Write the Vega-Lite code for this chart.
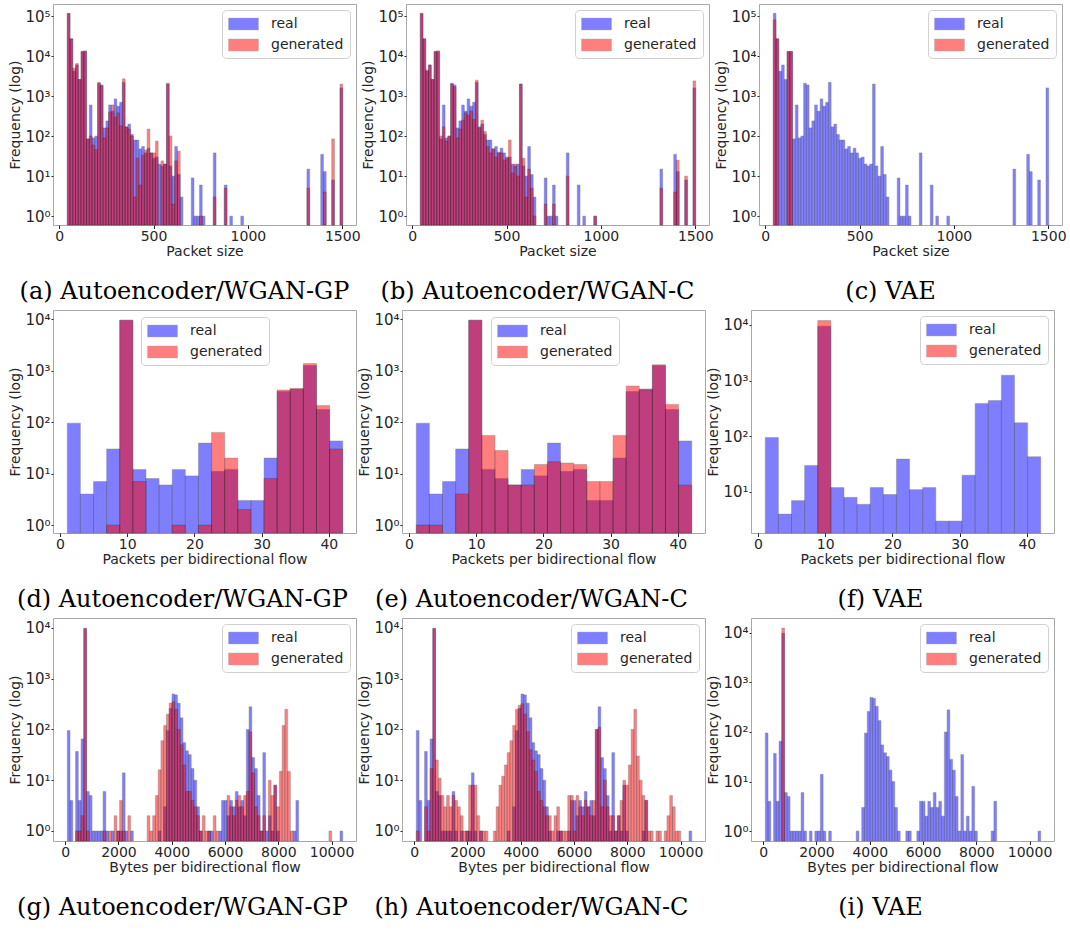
{
  "$schema": "https://vega.github.io/schema/vega-lite/v6.json",
  "padding": {"left": 8, "top": 3, "right": 0, "bottom": 0},
  "spacing": 5,
  "config": {
    "font": "DejaVu Sans",
    "view": {"stroke": "#a8a8a8", "strokeWidth": 1},
    "bar": {"binSpacing": 0, "opacity": 0.5, "stroke": "#000000", "strokeWidth": 0.4, "orient": "vertical"},
    "axis": {"labelFont": "DejaVu Sans", "titleFont": "DejaVu Sans", "labelFontSize": 14, "titleFontSize": 14, "titleFontWeight": "normal", "labelColor": "#262626", "titleColor": "#262626", "grid": false, "domain": false, "tickColor": "#262626", "tickSize": 3.5, "labelPadding": 1, "titlePadding": 1, "labelFlush": false, "labelOverlap": false},
    "axisY": {"labelExpr": "'10' + ['⁰','¹','²','³','⁴','⁵'][round(log(datum.value) / LN10)]", "labelFontSize": 15, "tickSize": 2, "labelPadding": 1, "titlePadding": 2},
    "legend": {"labelFont": "DejaVu Sans", "labelFontSize": 14, "labelColor": "#262626", "symbolType": "M-1,-0.8H3V0.8H-1Z", "symbolSize": 225, "symbolOpacity": 0.5, "symbolStrokeColor": "#555555", "symbolStrokeWidth": 0.5, "labelOffset": 27, "rowPadding": 6, "padding": 6, "fillColor": "#ffffff", "strokeColor": "#d0d0d0", "cornerRadius": 4, "offset": 6},
    "title": {"font": "DejaVu Serif", "fontSize": 24, "fontWeight": "normal", "color": "#000000", "orient": "bottom", "anchor": "middle", "frame": "bounds", "offset": 21}
  },
  "datasets": {
    "pkt_real": [
      {"x0": 40, "x1": 54.6, "c": 117000}, {"x0": 54.6, "x1": 69.2, "c": 27000}, {"x0": 69.2, "x1": 83.8, "c": 4200}, {"x0": 83.8, "x1": 98.4, "c": 6000},
      {"x0": 98.4, "x1": 113, "c": 2600}, {"x0": 113, "x1": 127.6, "c": 13000}, {"x0": 127.6, "x1": 142.2, "c": 13000}, {"x0": 142.2, "x1": 156.8, "c": 85},
      {"x0": 156.8, "x1": 171.4, "c": 600}, {"x0": 171.4, "x1": 186, "c": 90}, {"x0": 186, "x1": 200.6, "c": 100}, {"x0": 200.6, "x1": 215.2, "c": 2100},
      {"x0": 215.2, "x1": 229.8, "c": 1900}, {"x0": 229.8, "x1": 244.4, "c": 160}, {"x0": 244.4, "x1": 259, "c": 240}, {"x0": 259, "x1": 273.6, "c": 600},
      {"x0": 273.6, "x1": 288.2, "c": 420}, {"x0": 288.2, "x1": 302.8, "c": 850}, {"x0": 302.8, "x1": 317.4, "c": 560}, {"x0": 317.4, "x1": 332, "c": 700},
      {"x0": 332, "x1": 346.6, "c": 2200}, {"x0": 346.6, "x1": 361.2, "c": 170}, {"x0": 361.2, "x1": 375.8, "c": 200}, {"x0": 375.8, "x1": 390.4, "c": 110},
      {"x0": 390.4, "x1": 405, "c": 80}, {"x0": 405, "x1": 419.6, "c": 80}, {"x0": 419.6, "x1": 434.2, "c": 48}, {"x0": 434.2, "x1": 448.8, "c": 55},
      {"x0": 448.8, "x1": 463.4, "c": 38}, {"x0": 463.4, "x1": 478, "c": 50}, {"x0": 478, "x1": 492.6, "c": 38}, {"x0": 492.6, "x1": 507.2, "c": 28},
      {"x0": 507.2, "x1": 521.8, "c": 30}, {"x0": 521.8, "x1": 536.4, "c": 20}, {"x0": 536.4, "x1": 551, "c": 18}, {"x0": 551, "x1": 565.6, "c": 20},
      {"x0": 565.6, "x1": 580.2, "c": 2000}, {"x0": 580.2, "x1": 594.8, "c": 18}, {"x0": 594.8, "x1": 609.4, "c": 10}, {"x0": 609.4, "x1": 624, "c": 55},
      {"x0": 624, "x1": 638.6, "c": 11}, {"x0": 638.6, "x1": 653.2, "c": 3}, {"x0": 697, "x1": 711.6, "c": 9}, {"x0": 711.6, "x1": 726.2, "c": 1},
      {"x0": 726.2, "x1": 740.8, "c": 1}, {"x0": 740.8, "x1": 755.4, "c": 6}, {"x0": 755.4, "x1": 770, "c": 1}, {"x0": 813.8, "x1": 828.4, "c": 38},
      {"x0": 872.2, "x1": 886.8, "c": 6}, {"x0": 901.4, "x1": 916, "c": 1}, {"x0": 959.8, "x1": 974.4, "c": 1}, {"x0": 1310.2, "x1": 1324.8, "c": 15},
      {"x0": 1383.2, "x1": 1397.8, "c": 35}, {"x0": 1397.8, "x1": 1412.4, "c": 13}, {"x0": 1441.6, "x1": 1456.2, "c": 8}, {"x0": 1485.4, "x1": 1500, "c": 1600}
    ],
    "pkt_a": [
      {"x0": 40, "x1": 54.6, "c": 115000}, {"x0": 54.6, "x1": 69.2, "c": 27000}, {"x0": 69.2, "x1": 83.8, "c": 5000}, {"x0": 83.8, "x1": 98.4, "c": 6500},
      {"x0": 98.4, "x1": 113, "c": 2600}, {"x0": 113, "x1": 127.6, "c": 13000}, {"x0": 127.6, "x1": 142.2, "c": 13500}, {"x0": 142.2, "x1": 156.8, "c": 85},
      {"x0": 156.8, "x1": 171.4, "c": 100}, {"x0": 171.4, "x1": 186, "c": 60}, {"x0": 186, "x1": 200.6, "c": 46}, {"x0": 200.6, "x1": 215.2, "c": 2200},
      {"x0": 215.2, "x1": 229.8, "c": 1800}, {"x0": 229.8, "x1": 244.4, "c": 90}, {"x0": 244.4, "x1": 259, "c": 160}, {"x0": 259, "x1": 273.6, "c": 400},
      {"x0": 273.6, "x1": 288.2, "c": 600}, {"x0": 288.2, "x1": 302.8, "c": 300}, {"x0": 302.8, "x1": 317.4, "c": 380}, {"x0": 317.4, "x1": 332, "c": 180},
      {"x0": 332, "x1": 346.6, "c": 2700}, {"x0": 346.6, "x1": 361.2, "c": 170}, {"x0": 361.2, "x1": 375.8, "c": 150}, {"x0": 375.8, "x1": 390.4, "c": 100},
      {"x0": 390.4, "x1": 405, "c": 3}, {"x0": 405, "x1": 419.6, "c": 28}, {"x0": 419.6, "x1": 434.2, "c": 6}, {"x0": 434.2, "x1": 448.8, "c": 33},
      {"x0": 448.8, "x1": 463.4, "c": 45}, {"x0": 463.4, "x1": 478, "c": 150}, {"x0": 478, "x1": 492.6, "c": 38}, {"x0": 492.6, "x1": 507.2, "c": 38},
      {"x0": 507.2, "x1": 521.8, "c": 75}, {"x0": 536.4, "x1": 551, "c": 24}, {"x0": 551, "x1": 565.6, "c": 20}, {"x0": 565.6, "x1": 580.2, "c": 2100},
      {"x0": 580.2, "x1": 594.8, "c": 100}, {"x0": 594.8, "x1": 609.4, "c": 2}, {"x0": 609.4, "x1": 624, "c": 24}, {"x0": 624, "x1": 638.6, "c": 42},
      {"x0": 740.8, "x1": 755.4, "c": 1}, {"x0": 813.8, "x1": 828.4, "c": 3}, {"x0": 872.2, "x1": 886.8, "c": 5}, {"x0": 1310.2, "x1": 1324.8, "c": 5},
      {"x0": 1397.8, "x1": 1412.4, "c": 4}, {"x0": 1441.6, "x1": 1456.2, "c": 85}, {"x0": 1485.4, "x1": 1500, "c": 2000}
    ],
    "pkt_b": [
      {"x0": 40, "x1": 54.6, "c": 115000}, {"x0": 54.6, "x1": 69.2, "c": 27000}, {"x0": 69.2, "x1": 83.8, "c": 4500}, {"x0": 83.8, "x1": 98.4, "c": 6000},
      {"x0": 98.4, "x1": 113, "c": 2600}, {"x0": 113, "x1": 127.6, "c": 13000}, {"x0": 127.6, "x1": 142.2, "c": 13500}, {"x0": 142.2, "x1": 156.8, "c": 100},
      {"x0": 156.8, "x1": 171.4, "c": 170}, {"x0": 171.4, "x1": 186, "c": 75}, {"x0": 186, "x1": 200.6, "c": 100}, {"x0": 200.6, "x1": 215.2, "c": 2000},
      {"x0": 215.2, "x1": 229.8, "c": 1700}, {"x0": 229.8, "x1": 244.4, "c": 90}, {"x0": 244.4, "x1": 259, "c": 150}, {"x0": 259, "x1": 273.6, "c": 250},
      {"x0": 273.6, "x1": 288.2, "c": 380}, {"x0": 288.2, "x1": 302.8, "c": 330}, {"x0": 302.8, "x1": 317.4, "c": 420}, {"x0": 317.4, "x1": 332, "c": 260},
      {"x0": 332, "x1": 346.6, "c": 2500}, {"x0": 346.6, "x1": 361.2, "c": 160}, {"x0": 361.2, "x1": 375.8, "c": 250}, {"x0": 375.8, "x1": 390.4, "c": 130},
      {"x0": 390.4, "x1": 405, "c": 55}, {"x0": 405, "x1": 419.6, "c": 38}, {"x0": 419.6, "x1": 434.2, "c": 48}, {"x0": 434.2, "x1": 448.8, "c": 30},
      {"x0": 448.8, "x1": 463.4, "c": 40}, {"x0": 463.4, "x1": 478, "c": 38}, {"x0": 478, "x1": 492.6, "c": 25}, {"x0": 492.6, "x1": 507.2, "c": 30},
      {"x0": 507.2, "x1": 521.8, "c": 80}, {"x0": 521.8, "x1": 536.4, "c": 12}, {"x0": 536.4, "x1": 551, "c": 20}, {"x0": 551, "x1": 565.6, "c": 10},
      {"x0": 565.6, "x1": 580.2, "c": 2000}, {"x0": 580.2, "x1": 594.8, "c": 28}, {"x0": 594.8, "x1": 609.4, "c": 3}, {"x0": 609.4, "x1": 624, "c": 15},
      {"x0": 624, "x1": 638.6, "c": 5}, {"x0": 638.6, "x1": 653.2, "c": 1}, {"x0": 697, "x1": 711.6, "c": 2}, {"x0": 740.8, "x1": 755.4, "c": 2},
      {"x0": 813.8, "x1": 828.4, "c": 10}, {"x0": 959.8, "x1": 974.4, "c": 1}, {"x0": 1310.2, "x1": 1324.8, "c": 5}, {"x0": 1383.2, "x1": 1397.8, "c": 4},
      {"x0": 1397.8, "x1": 1412.4, "c": 25}, {"x0": 1441.6, "x1": 1456.2, "c": 10}, {"x0": 1485.4, "x1": 1500, "c": 2400}
    ],
    "pkt_c": [
      {"x0": 40, "x1": 54.6, "c": 80000}, {"x0": 54.6, "x1": 69.2, "c": 27000}, {"x0": 113, "x1": 127.6, "c": 13000}, {"x0": 127.6, "x1": 142.2, "c": 13000}
    ],
    "pf_real": [
      {"x0": 1, "x1": 2.952, "c": 95}, {"x0": 2.952, "x1": 4.905, "c": 4}, {"x0": 4.905, "x1": 6.857, "c": 7}, {"x0": 6.857, "x1": 8.81, "c": 30},
      {"x0": 8.81, "x1": 10.762, "c": 9500}, {"x0": 10.762, "x1": 12.714, "c": 12}, {"x0": 12.714, "x1": 14.667, "c": 8}, {"x0": 14.667, "x1": 16.619, "c": 6},
      {"x0": 16.619, "x1": 18.571, "c": 12}, {"x0": 18.571, "x1": 20.524, "c": 9}, {"x0": 20.524, "x1": 22.476, "c": 39}, {"x0": 22.476, "x1": 24.429, "c": 11},
      {"x0": 24.429, "x1": 26.381, "c": 12}, {"x0": 26.381, "x1": 28.333, "c": 3}, {"x0": 28.333, "x1": 30.286, "c": 3}, {"x0": 30.286, "x1": 32.238, "c": 20},
      {"x0": 32.238, "x1": 34.19, "c": 390}, {"x0": 34.19, "x1": 36.143, "c": 440}, {"x0": 36.143, "x1": 38.095, "c": 1250}, {"x0": 38.095, "x1": 40.048, "c": 175},
      {"x0": 40.048, "x1": 42, "c": 43}
    ],
    "pf_d": [
      {"x0": 6.857, "x1": 8.81, "c": 1}, {"x0": 8.81, "x1": 10.762, "c": 9500}, {"x0": 10.762, "x1": 12.714, "c": 7}, {"x0": 16.619, "x1": 18.571, "c": 1},
      {"x0": 20.524, "x1": 22.476, "c": 1}, {"x0": 22.476, "x1": 24.429, "c": 63}, {"x0": 24.429, "x1": 26.381, "c": 20}, {"x0": 26.381, "x1": 28.333, "c": 2},
      {"x0": 30.286, "x1": 32.238, "c": 8}, {"x0": 32.238, "x1": 34.19, "c": 420}, {"x0": 34.19, "x1": 36.143, "c": 450}, {"x0": 36.143, "x1": 38.095, "c": 1370},
      {"x0": 38.095, "x1": 40.048, "c": 210}, {"x0": 40.048, "x1": 42, "c": 30}
    ],
    "pf_e": [
      {"x0": 1, "x1": 2.952, "c": 1}, {"x0": 2.952, "x1": 4.905, "c": 1}, {"x0": 6.857, "x1": 8.81, "c": 4}, {"x0": 8.81, "x1": 10.762, "c": 9500},
      {"x0": 10.762, "x1": 12.714, "c": 55}, {"x0": 12.714, "x1": 14.667, "c": 28}, {"x0": 14.667, "x1": 16.619, "c": 6}, {"x0": 16.619, "x1": 18.571, "c": 6},
      {"x0": 18.571, "x1": 20.524, "c": 15}, {"x0": 20.524, "x1": 22.476, "c": 17}, {"x0": 22.476, "x1": 24.429, "c": 16}, {"x0": 24.429, "x1": 26.381, "c": 15},
      {"x0": 26.381, "x1": 28.333, "c": 7}, {"x0": 28.333, "x1": 30.286, "c": 7}, {"x0": 30.286, "x1": 32.238, "c": 55}, {"x0": 32.238, "x1": 34.19, "c": 500},
      {"x0": 34.19, "x1": 36.143, "c": 420}, {"x0": 36.143, "x1": 38.095, "c": 1300}, {"x0": 38.095, "x1": 40.048, "c": 220}, {"x0": 40.048, "x1": 42, "c": 6}
    ],
    "pf_f": [
      {"x0": 8.81, "x1": 10.762, "c": 12000}
    ],
    "by_real": [
      {"x0": 60, "x1": 163.4, "c": 95}, {"x0": 163.4, "x1": 266.8, "c": 4}, {"x0": 370.2, "x1": 473.6, "c": 37}, {"x0": 473.6, "x1": 577, "c": 4},
      {"x0": 577, "x1": 680.4, "c": 65}, {"x0": 680.4, "x1": 783.8, "c": 9800}, {"x0": 783.8, "x1": 887.2, "c": 6}, {"x0": 887.2, "x1": 990.6, "c": 5},
      {"x0": 990.6, "x1": 1094, "c": 1}, {"x0": 1094, "x1": 1197.4, "c": 1}, {"x0": 1197.4, "x1": 1300.8, "c": 1}, {"x0": 1300.8, "x1": 1404.2, "c": 1},
      {"x0": 1404.2, "x1": 1507.6, "c": 6}, {"x0": 1507.6, "x1": 1611, "c": 1}, {"x0": 1714.4, "x1": 1817.8, "c": 1}, {"x0": 1921.2, "x1": 2024.6, "c": 1},
      {"x0": 2024.6, "x1": 2128, "c": 1}, {"x0": 2128, "x1": 2231.4, "c": 14}, {"x0": 2231.4, "x1": 2334.8, "c": 1}, {"x0": 2438.2, "x1": 2541.6, "c": 1},
      {"x0": 3472.2, "x1": 3575.6, "c": 1}, {"x0": 3679, "x1": 3782.4, "c": 3}, {"x0": 3782.4, "x1": 3885.8, "c": 95}, {"x0": 3885.8, "x1": 3989.2, "c": 260},
      {"x0": 3989.2, "x1": 4092.6, "c": 500}, {"x0": 4092.6, "x1": 4196, "c": 480}, {"x0": 4196, "x1": 4299.4, "c": 330}, {"x0": 4299.4, "x1": 4402.8, "c": 170},
      {"x0": 4402.8, "x1": 4506.2, "c": 55}, {"x0": 4506.2, "x1": 4609.6, "c": 38}, {"x0": 4609.6, "x1": 4713, "c": 32}, {"x0": 4713, "x1": 4816.4, "c": 17},
      {"x0": 4816.4, "x1": 4919.8, "c": 10}, {"x0": 4919.8, "x1": 5023.2, "c": 3}, {"x0": 5023.2, "x1": 5126.6, "c": 1}, {"x0": 5333.4, "x1": 5436.8, "c": 1},
      {"x0": 5436.8, "x1": 5540.2, "c": 1}, {"x0": 5747, "x1": 5850.4, "c": 1}, {"x0": 5850.4, "x1": 5953.8, "c": 4}, {"x0": 5953.8, "x1": 6057.2, "c": 4},
      {"x0": 6057.2, "x1": 6160.6, "c": 2}, {"x0": 6160.6, "x1": 6264, "c": 4}, {"x0": 6264, "x1": 6367.4, "c": 3}, {"x0": 6367.4, "x1": 6470.8, "c": 6},
      {"x0": 6470.8, "x1": 6574.2, "c": 3}, {"x0": 6574.2, "x1": 6677.6, "c": 4}, {"x0": 6677.6, "x1": 6781, "c": 2}, {"x0": 6781, "x1": 6884.4, "c": 100},
      {"x0": 6884.4, "x1": 6987.8, "c": 280}, {"x0": 6987.8, "x1": 7091.2, "c": 28}, {"x0": 7091.2, "x1": 7194.6, "c": 17}, {"x0": 7194.6, "x1": 7298, "c": 5},
      {"x0": 7298, "x1": 7401.4, "c": 1}, {"x0": 7401.4, "x1": 7504.8, "c": 35}, {"x0": 7504.8, "x1": 7608.2, "c": 1}, {"x0": 7608.2, "x1": 7711.6, "c": 2},
      {"x0": 7711.6, "x1": 7815, "c": 1}, {"x0": 7815, "x1": 7918.4, "c": 8}, {"x0": 7918.4, "x1": 8021.8, "c": 1}, {"x0": 8538.8, "x1": 8642.2, "c": 1},
      {"x0": 8642.2, "x1": 8745.6, "c": 4}, {"x0": 10296.6, "x1": 10400, "c": 1}
    ],
    "by_g": [
      {"x0": 370.2, "x1": 473.6, "c": 1}, {"x0": 473.6, "x1": 577, "c": 1}, {"x0": 577, "x1": 680.4, "c": 2}, {"x0": 680.4, "x1": 783.8, "c": 9800},
      {"x0": 783.8, "x1": 887.2, "c": 1}, {"x0": 1404.2, "x1": 1507.6, "c": 1}, {"x0": 1611, "x1": 1714.4, "c": 1}, {"x0": 1817.8, "x1": 1921.2, "c": 2},
      {"x0": 1921.2, "x1": 2024.6, "c": 1}, {"x0": 2024.6, "x1": 2128, "c": 4}, {"x0": 2128, "x1": 2231.4, "c": 1}, {"x0": 2334.8, "x1": 2438.2, "c": 2},
      {"x0": 3058.6, "x1": 3162, "c": 2}, {"x0": 3162, "x1": 3265.4, "c": 1}, {"x0": 3265.4, "x1": 3368.8, "c": 2}, {"x0": 3368.8, "x1": 3472.2, "c": 5},
      {"x0": 3472.2, "x1": 3575.6, "c": 16}, {"x0": 3575.6, "x1": 3679, "c": 60}, {"x0": 3679, "x1": 3782.4, "c": 120}, {"x0": 3782.4, "x1": 3885.8, "c": 200},
      {"x0": 3885.8, "x1": 3989.2, "c": 330}, {"x0": 3989.2, "x1": 4092.6, "c": 350}, {"x0": 4092.6, "x1": 4196, "c": 250}, {"x0": 4196, "x1": 4299.4, "c": 100},
      {"x0": 4299.4, "x1": 4402.8, "c": 50}, {"x0": 4402.8, "x1": 4506.2, "c": 20}, {"x0": 4506.2, "x1": 4609.6, "c": 6}, {"x0": 4609.6, "x1": 4713, "c": 6},
      {"x0": 4713, "x1": 4816.4, "c": 4}, {"x0": 4816.4, "x1": 4919.8, "c": 3}, {"x0": 4919.8, "x1": 5023.2, "c": 2}, {"x0": 5023.2, "x1": 5126.6, "c": 1},
      {"x0": 5126.6, "x1": 5230, "c": 2}, {"x0": 5230, "x1": 5333.4, "c": 1}, {"x0": 5333.4, "x1": 5436.8, "c": 1}, {"x0": 5540.2, "x1": 5643.6, "c": 2},
      {"x0": 5643.6, "x1": 5747, "c": 1}, {"x0": 6057.2, "x1": 6160.6, "c": 5}, {"x0": 6160.6, "x1": 6264, "c": 3}, {"x0": 6264, "x1": 6367.4, "c": 2},
      {"x0": 6367.4, "x1": 6470.8, "c": 4}, {"x0": 6470.8, "x1": 6574.2, "c": 5}, {"x0": 6574.2, "x1": 6677.6, "c": 3}, {"x0": 6677.6, "x1": 6781, "c": 5},
      {"x0": 6781, "x1": 6884.4, "c": 6}, {"x0": 6884.4, "x1": 6987.8, "c": 90}, {"x0": 6987.8, "x1": 7091.2, "c": 14}, {"x0": 7091.2, "x1": 7194.6, "c": 3},
      {"x0": 7194.6, "x1": 7298, "c": 2}, {"x0": 7298, "x1": 7401.4, "c": 1}, {"x0": 7401.4, "x1": 7504.8, "c": 2}, {"x0": 7608.2, "x1": 7711.6, "c": 10},
      {"x0": 7711.6, "x1": 7815, "c": 5}, {"x0": 7815, "x1": 7918.4, "c": 8}, {"x0": 7918.4, "x1": 8021.8, "c": 3}, {"x0": 8021.8, "x1": 8125.2, "c": 15},
      {"x0": 8125.2, "x1": 8228.6, "c": 120}, {"x0": 8228.6, "x1": 8332, "c": 250}, {"x0": 8332, "x1": 8435.4, "c": 15}, {"x0": 8435.4, "x1": 8538.8, "c": 1},
      {"x0": 9883, "x1": 9986.4, "c": 1}
    ],
    "by_h": [
      {"x0": 60, "x1": 163.4, "c": 1}, {"x0": 370.2, "x1": 473.6, "c": 3}, {"x0": 473.6, "x1": 577, "c": 1}, {"x0": 577, "x1": 680.4, "c": 17},
      {"x0": 680.4, "x1": 783.8, "c": 9800}, {"x0": 783.8, "x1": 887.2, "c": 25}, {"x0": 887.2, "x1": 990.6, "c": 11}, {"x0": 990.6, "x1": 1094, "c": 5},
      {"x0": 1094, "x1": 1197.4, "c": 3}, {"x0": 1197.4, "x1": 1300.8, "c": 5}, {"x0": 1300.8, "x1": 1404.2, "c": 3}, {"x0": 1404.2, "x1": 1507.6, "c": 5},
      {"x0": 1507.6, "x1": 1611, "c": 4}, {"x0": 1611, "x1": 1714.4, "c": 3}, {"x0": 1714.4, "x1": 1817.8, "c": 2}, {"x0": 1817.8, "x1": 1921.2, "c": 1},
      {"x0": 1921.2, "x1": 2024.6, "c": 1}, {"x0": 2024.6, "x1": 2128, "c": 8}, {"x0": 2128, "x1": 2231.4, "c": 8}, {"x0": 2231.4, "x1": 2334.8, "c": 8},
      {"x0": 2334.8, "x1": 2438.2, "c": 2}, {"x0": 2438.2, "x1": 2541.6, "c": 1}, {"x0": 2541.6, "x1": 2645, "c": 1}, {"x0": 2645, "x1": 2748.4, "c": 1},
      {"x0": 2955.2, "x1": 3058.6, "c": 1}, {"x0": 3058.6, "x1": 3162, "c": 3}, {"x0": 3162, "x1": 3265.4, "c": 8}, {"x0": 3265.4, "x1": 3368.8, "c": 12},
      {"x0": 3368.8, "x1": 3472.2, "c": 20}, {"x0": 3472.2, "x1": 3575.6, "c": 35}, {"x0": 3575.6, "x1": 3679, "c": 60}, {"x0": 3679, "x1": 3782.4, "c": 120},
      {"x0": 3782.4, "x1": 3885.8, "c": 250}, {"x0": 3885.8, "x1": 3989.2, "c": 300}, {"x0": 3989.2, "x1": 4092.6, "c": 320}, {"x0": 4092.6, "x1": 4196, "c": 200},
      {"x0": 4196, "x1": 4299.4, "c": 90}, {"x0": 4299.4, "x1": 4402.8, "c": 40}, {"x0": 4402.8, "x1": 4506.2, "c": 25}, {"x0": 4506.2, "x1": 4609.6, "c": 15},
      {"x0": 4609.6, "x1": 4713, "c": 6}, {"x0": 4713, "x1": 4816.4, "c": 4}, {"x0": 4816.4, "x1": 4919.8, "c": 3}, {"x0": 4919.8, "x1": 5023.2, "c": 2},
      {"x0": 5023.2, "x1": 5126.6, "c": 2}, {"x0": 5126.6, "x1": 5230, "c": 1}, {"x0": 5230, "x1": 5333.4, "c": 2}, {"x0": 5333.4, "x1": 5436.8, "c": 3},
      {"x0": 5436.8, "x1": 5540.2, "c": 1}, {"x0": 5540.2, "x1": 5643.6, "c": 1}, {"x0": 5643.6, "x1": 5747, "c": 1}, {"x0": 5747, "x1": 5850.4, "c": 5},
      {"x0": 5850.4, "x1": 5953.8, "c": 5}, {"x0": 5953.8, "x1": 6057.2, "c": 1}, {"x0": 6057.2, "x1": 6160.6, "c": 5}, {"x0": 6160.6, "x1": 6264, "c": 3},
      {"x0": 6264, "x1": 6367.4, "c": 2}, {"x0": 6367.4, "x1": 6470.8, "c": 4}, {"x0": 6470.8, "x1": 6574.2, "c": 3}, {"x0": 6574.2, "x1": 6677.6, "c": 2},
      {"x0": 6677.6, "x1": 6781, "c": 4}, {"x0": 6781, "x1": 6884.4, "c": 100}, {"x0": 6884.4, "x1": 6987.8, "c": 110}, {"x0": 6987.8, "x1": 7091.2, "c": 3},
      {"x0": 7091.2, "x1": 7194.6, "c": 10}, {"x0": 7194.6, "x1": 7298, "c": 3}, {"x0": 7298, "x1": 7401.4, "c": 2}, {"x0": 7401.4, "x1": 7504.8, "c": 2},
      {"x0": 7504.8, "x1": 7608.2, "c": 1}, {"x0": 7608.2, "x1": 7711.6, "c": 2}, {"x0": 7711.6, "x1": 7815, "c": 4}, {"x0": 7815, "x1": 7918.4, "c": 10},
      {"x0": 7918.4, "x1": 8021.8, "c": 8}, {"x0": 8021.8, "x1": 8125.2, "c": 20}, {"x0": 8125.2, "x1": 8228.6, "c": 100}, {"x0": 8228.6, "x1": 8332, "c": 250},
      {"x0": 8332, "x1": 8435.4, "c": 30}, {"x0": 8435.4, "x1": 8538.8, "c": 10}, {"x0": 8538.8, "x1": 8642.2, "c": 5}, {"x0": 8642.2, "x1": 8745.6, "c": 4},
      {"x0": 8745.6, "x1": 8849, "c": 1}, {"x0": 8849, "x1": 8952.4, "c": 1}, {"x0": 9055.8, "x1": 9159.2, "c": 1}, {"x0": 9159.2, "x1": 9262.6, "c": 1},
      {"x0": 9366, "x1": 9469.4, "c": 1}, {"x0": 9469.4, "x1": 9572.8, "c": 2}, {"x0": 9572.8, "x1": 9676.2, "c": 5}, {"x0": 9676.2, "x1": 9779.6, "c": 3},
      {"x0": 9779.6, "x1": 9883, "c": 1}, {"x0": 9883, "x1": 9986.4, "c": 1}
    ],
    "by_i": [
      {"x0": 680.4, "x1": 783.8, "c": 12500}
    ]
  },
  "resolve": {"scale": {"color": "independent"}, "legend": {"color": "independent"}},
  "vconcat": [
    {
      "spacing": 0,
      "resolve": {"scale": {"color": "independent"}, "legend": {"color": "independent"}},
      "hconcat": [
        {
          "width": 303, "height": 221,
          "title": {"text": "(a) Autoencoder/WGAN-GP"},
          "layer": [
            {"data": {"name": "pkt_real"}, "mark": "bar", "encoding": {
              "x": {"field": "x0", "type": "quantitative", "bin": "binned", "scale": {"domain": [-33, 1573], "nice": false, "zero": false}, "axis": {"values": [0, 500, 1000, 1500], "format": "d", "title": "Packet size"}},
              "x2": {"field": "x1"},
              "y": {"field": "c", "type": "quantitative", "scale": {"type": "log", "domain": [0.6, 200000], "nice": false}, "axis": {"values": [1, 10, 100, 1000, 10000, 100000], "title": "Frequency (log)"}},
              "y2": {"datum": 0.6},
              "color": {"datum": "real", "type": "nominal", "scale": {"domain": ["real", "generated"], "range": ["#0000ff", "#ff0000"]}, "legend": {"orient": "top-right", "title": null}}}},
            {"data": {"name": "pkt_a"}, "mark": "bar", "encoding": {
              "x": {"field": "x0", "type": "quantitative", "bin": "binned"}, "x2": {"field": "x1"},
              "y": {"field": "c", "type": "quantitative"}, "y2": {"datum": 0.6},
              "color": {"datum": "generated", "type": "nominal"}}}
          ]
        },
        {
          "width": 303, "height": 221,
          "title": {"text": "(b) Autoencoder/WGAN-C"},
          "layer": [
            {"data": {"name": "pkt_real"}, "mark": "bar", "encoding": {
              "x": {"field": "x0", "type": "quantitative", "bin": "binned", "scale": {"domain": [-33, 1573], "nice": false, "zero": false}, "axis": {"values": [0, 500, 1000, 1500], "format": "d", "title": "Packet size"}},
              "x2": {"field": "x1"},
              "y": {"field": "c", "type": "quantitative", "scale": {"type": "log", "domain": [0.6, 200000], "nice": false}, "axis": {"values": [1, 10, 100, 1000, 10000, 100000], "title": "Frequency (log)"}},
              "y2": {"datum": 0.6},
              "color": {"datum": "real", "type": "nominal", "scale": {"domain": ["real", "generated"], "range": ["#0000ff", "#ff0000"]}, "legend": {"orient": "top-right", "title": null}}}},
            {"data": {"name": "pkt_b"}, "mark": "bar", "encoding": {
              "x": {"field": "x0", "type": "quantitative", "bin": "binned"}, "x2": {"field": "x1"},
              "y": {"field": "c", "type": "quantitative"}, "y2": {"datum": 0.6},
              "color": {"datum": "generated", "type": "nominal"}}}
          ]
        },
        {
          "width": 303, "height": 221,
          "title": {"text": "(c) VAE"},
          "layer": [
            {"data": {"name": "pkt_real"}, "mark": "bar", "encoding": {
              "x": {"field": "x0", "type": "quantitative", "bin": "binned", "scale": {"domain": [-33, 1573], "nice": false, "zero": false}, "axis": {"values": [0, 500, 1000, 1500], "format": "d", "title": "Packet size"}},
              "x2": {"field": "x1"},
              "y": {"field": "c", "type": "quantitative", "scale": {"type": "log", "domain": [0.6, 200000], "nice": false}, "axis": {"values": [1, 10, 100, 1000, 10000, 100000], "title": "Frequency (log)"}},
              "y2": {"datum": 0.6},
              "color": {"datum": "real", "type": "nominal", "scale": {"domain": ["real", "generated"], "range": ["#0000ff", "#ff0000"]}, "legend": {"orient": "top-right", "title": null}}}},
            {"data": {"name": "pkt_c"}, "mark": "bar", "encoding": {
              "x": {"field": "x0", "type": "quantitative", "bin": "binned"}, "x2": {"field": "x1"},
              "y": {"field": "c", "type": "quantitative"}, "y2": {"datum": 0.6},
              "color": {"datum": "generated", "type": "nominal"}}}
          ]
        }
      ]
    },
    {
      "spacing": 0,
      "resolve": {"scale": {"color": "independent"}, "legend": {"color": "independent"}},
      "hconcat": [
        {
          "width": 303, "height": 223,
          "title": {"text": "(d) Autoencoder/WGAN-GP"},
          "layer": [
            {"data": {"name": "pf_real"}, "mark": "bar", "encoding": {
              "x": {"field": "x0", "type": "quantitative", "bin": "binned", "scale": {"domain": [-1.05, 44.05], "nice": false, "zero": false}, "axis": {"values": [0, 10, 20, 30, 40], "format": "d", "title": "Packets per bidirectional flow"}},
              "x2": {"field": "x1"},
              "y": {"field": "c", "type": "quantitative", "scale": {"type": "log", "domain": [0.7, 15000], "nice": false}, "axis": {"values": [1, 10, 100, 1000, 10000], "title": "Frequency (log)"}},
              "y2": {"datum": 0.7},
              "color": {"datum": "real", "type": "nominal", "scale": {"domain": ["real", "generated"], "range": ["#0000ff", "#ff0000"]}, "legend": {"orient": "none", "legendX": 88, "legendY": 7, "title": null}}}},
            {"data": {"name": "pf_d"}, "mark": "bar", "encoding": {
              "x": {"field": "x0", "type": "quantitative", "bin": "binned"}, "x2": {"field": "x1"},
              "y": {"field": "c", "type": "quantitative"}, "y2": {"datum": 0.7},
              "color": {"datum": "generated", "type": "nominal"}}}
          ]
        },
        {
          "width": 303, "height": 223,
          "title": {"text": "(e) Autoencoder/WGAN-C"},
          "layer": [
            {"data": {"name": "pf_real"}, "mark": "bar", "encoding": {
              "x": {"field": "x0", "type": "quantitative", "bin": "binned", "scale": {"domain": [-1.05, 44.05], "nice": false, "zero": false}, "axis": {"values": [0, 10, 20, 30, 40], "format": "d", "title": "Packets per bidirectional flow"}},
              "x2": {"field": "x1"},
              "y": {"field": "c", "type": "quantitative", "scale": {"type": "log", "domain": [0.7, 15000], "nice": false}, "axis": {"values": [1, 10, 100, 1000, 10000], "title": "Frequency (log)"}},
              "y2": {"datum": 0.7},
              "color": {"datum": "real", "type": "nominal", "scale": {"domain": ["real", "generated"], "range": ["#0000ff", "#ff0000"]}, "legend": {"orient": "none", "legendX": 89, "legendY": 7, "title": null}}}},
            {"data": {"name": "pf_e"}, "mark": "bar", "encoding": {
              "x": {"field": "x0", "type": "quantitative", "bin": "binned"}, "x2": {"field": "x1"},
              "y": {"field": "c", "type": "quantitative"}, "y2": {"datum": 0.7},
              "color": {"datum": "generated", "type": "nominal"}}}
          ]
        },
        {
          "width": 303, "height": 223,
          "title": {"text": "(f) VAE"},
          "layer": [
            {"data": {"name": "pf_real"}, "mark": "bar", "encoding": {
              "x": {"field": "x0", "type": "quantitative", "bin": "binned", "scale": {"domain": [-1.05, 44.05], "nice": false, "zero": false}, "axis": {"values": [0, 10, 20, 30, 40], "format": "d", "title": "Packets per bidirectional flow"}},
              "x2": {"field": "x1"},
              "y": {"field": "c", "type": "quantitative", "scale": {"type": "log", "domain": [1.83, 18600], "nice": false}, "axis": {"values": [10, 100, 1000, 10000], "title": "Frequency (log)"}},
              "y2": {"datum": 1.83},
              "color": {"datum": "real", "type": "nominal", "scale": {"domain": ["real", "generated"], "range": ["#0000ff", "#ff0000"]}, "legend": {"orient": "top-right", "title": null}}}},
            {"data": {"name": "pf_f"}, "mark": "bar", "encoding": {
              "x": {"field": "x0", "type": "quantitative", "bin": "binned"}, "x2": {"field": "x1"},
              "y": {"field": "c", "type": "quantitative"}, "y2": {"datum": 1.83},
              "color": {"datum": "generated", "type": "nominal"}}}
          ]
        }
      ]
    },
    {
      "spacing": 0,
      "resolve": {"scale": {"color": "independent"}, "legend": {"color": "independent"}},
      "hconcat": [
        {
          "width": 303, "height": 223,
          "title": {"text": "(g) Autoencoder/WGAN-GP"},
          "layer": [
            {"data": {"name": "by_real"}, "mark": "bar", "encoding": {
              "x": {"field": "x0", "type": "quantitative", "bin": "binned", "scale": {"domain": [-457, 10917], "nice": false, "zero": false}, "axis": {"values": [0, 2000, 4000, 6000, 8000, 10000], "format": "d", "title": "Bytes per bidirectional flow"}},
              "x2": {"field": "x1"},
              "y": {"field": "c", "type": "quantitative", "scale": {"type": "log", "domain": [0.635, 15700], "nice": false}, "axis": {"values": [1, 10, 100, 1000, 10000], "title": "Frequency (log)"}},
              "y2": {"datum": 0.635},
              "color": {"datum": "real", "type": "nominal", "scale": {"domain": ["real", "generated"], "range": ["#0000ff", "#ff0000"]}, "legend": {"orient": "top-right", "title": null}}}},
            {"data": {"name": "by_g"}, "mark": "bar", "encoding": {
              "x": {"field": "x0", "type": "quantitative", "bin": "binned"}, "x2": {"field": "x1"},
              "y": {"field": "c", "type": "quantitative"}, "y2": {"datum": 0.635},
              "color": {"datum": "generated", "type": "nominal"}}}
          ]
        },
        {
          "width": 303, "height": 223,
          "title": {"text": "(h) Autoencoder/WGAN-C"},
          "layer": [
            {"data": {"name": "by_real"}, "mark": "bar", "encoding": {
              "x": {"field": "x0", "type": "quantitative", "bin": "binned", "scale": {"domain": [-457, 10917], "nice": false, "zero": false}, "axis": {"values": [0, 2000, 4000, 6000, 8000, 10000], "format": "d", "title": "Bytes per bidirectional flow"}},
              "x2": {"field": "x1"},
              "y": {"field": "c", "type": "quantitative", "scale": {"type": "log", "domain": [0.635, 15700], "nice": false}, "axis": {"values": [1, 10, 100, 1000, 10000], "title": "Frequency (log)"}},
              "y2": {"datum": 0.635},
              "color": {"datum": "real", "type": "nominal", "scale": {"domain": ["real", "generated"], "range": ["#0000ff", "#ff0000"]}, "legend": {"orient": "top-right", "title": null}}}},
            {"data": {"name": "by_h"}, "mark": "bar", "encoding": {
              "x": {"field": "x0", "type": "quantitative", "bin": "binned"}, "x2": {"field": "x1"},
              "y": {"field": "c", "type": "quantitative"}, "y2": {"datum": 0.635},
              "color": {"datum": "generated", "type": "nominal"}}}
          ]
        },
        {
          "width": 303, "height": 223,
          "title": {"text": "(i) VAE"},
          "layer": [
            {"data": {"name": "by_real"}, "mark": "bar", "encoding": {
              "x": {"field": "x0", "type": "quantitative", "bin": "binned", "scale": {"domain": [-457, 10917], "nice": false, "zero": false}, "axis": {"values": [0, 2000, 4000, 6000, 8000, 10000], "format": "d", "title": "Bytes per bidirectional flow"}},
              "x2": {"field": "x1"},
              "y": {"field": "c", "type": "quantitative", "scale": {"type": "log", "domain": [0.63, 20000], "nice": false}, "axis": {"values": [1, 10, 100, 1000, 10000], "title": "Frequency (log)"}},
              "y2": {"datum": 0.63},
              "color": {"datum": "real", "type": "nominal", "scale": {"domain": ["real", "generated"], "range": ["#0000ff", "#ff0000"]}, "legend": {"orient": "top-right", "title": null}}}},
            {"data": {"name": "by_i"}, "mark": "bar", "encoding": {
              "x": {"field": "x0", "type": "quantitative", "bin": "binned"}, "x2": {"field": "x1"},
              "y": {"field": "c", "type": "quantitative"}, "y2": {"datum": 0.63},
              "color": {"datum": "generated", "type": "nominal"}}}
          ]
        }
      ]
    }
  ]
}
